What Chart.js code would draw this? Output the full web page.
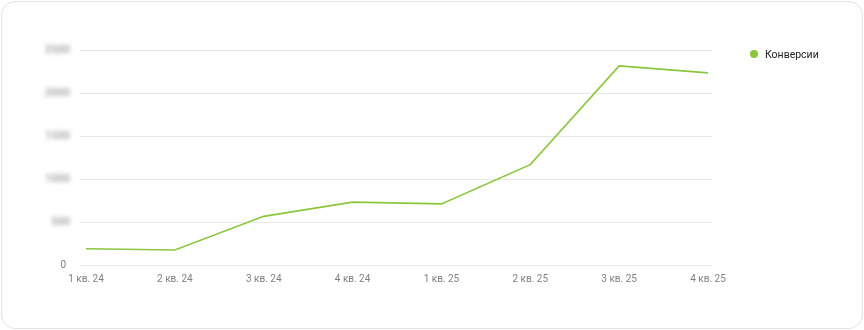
<!DOCTYPE html>
<html>
<head>
<meta charset="utf-8">
<script src="https://cdn.jsdelivr.net/npm/chart.js@4/dist/chart.umd.min.js"></script>
<style>
  html, body { margin: 0; padding: 0; background: #ffffff; }
  #card {
    position: absolute; left: 1px; top: 1px; width: 860px; height: 326px;
    border: 1px solid #e4e4e4; border-radius: 14px; background: #fff; overflow: hidden;
  }
  #wrap { position: absolute; left: -2px; top: -2px; width: 864px; height: 330px; }
  #legend {
    position: absolute; left: 750px; top: 46px; height: 16px;
    font: 10.5px Roboto, sans-serif; color: #222; white-space: nowrap;
    display: flex; align-items: center;
  }
  #legend .dot { width: 8px; height: 8px; border-radius: 50%; margin-right: 7px; }
</style>
</head>
<body>
<div id="card"><div id="wrap"><canvas id="c" width="864" height="330"></canvas>
<div id="legend"></div></div></div>
<script>
const categories = ["1 кв. 24", "2 кв. 24", "3 кв. 24", "4 кв. 24", "1 кв. 25", "2 кв. 25", "3 кв. 25", "4 кв. 25"];
const seriesName = "Конверсии";
const conversions = [195, 180, 570, 735, 715, 1170, 2315, 2235];
const yTicks = [0, 500, 1000, 1500, 2000, 2500];

const lineColor = '#8cc63f';

const blurLabels = {
  id: 'blurLabels',
  afterDraw(chart) {
    const y = chart.scales.y;
    const ctx = chart.ctx;
    ctx.save();
    ctx.filter = 'blur(2.2px)';
    ctx.font = '500 11px Roboto';
    ctx.fillStyle = '#9a9a9a';
    ctx.textAlign = 'right';
    ctx.textBaseline = 'middle';
    yTicks.forEach(v => {
      if (v === 0) return;
      ctx.fillText(String(v), chart.chartArea.left - 10, y.getPixelForValue(v));
    });
    ctx.restore();
  }
};

const chart = new Chart(document.getElementById('c'), {
  type: 'line',
  data: {
    datasets: [{
      label: seriesName,
      data: conversions.map((v, i) => ({ x: i, y: v })),
      borderColor: lineColor,
      backgroundColor: lineColor,
      borderWidth: 1.6,
      pointRadius: 0,
      pointHoverRadius: 0,
      tension: 0,
      fill: false
    }]
  },
  options: {
    responsive: false,
    animation: false,
    devicePixelRatio: 1,
    layout: { padding: { top: 50, left: 0, right: 152, bottom: 0 } },
    plugins: {
      tooltip: { enabled: false },
      legend: { display: false }
    },
    scales: {
      x: {
        type: 'linear',
        min: -0.0675,
        max: 7.045,
        grid: { display: false, drawTicks: false },
        border: { display: false },
        afterBuildTicks: s => { s.ticks = categories.map((c, i) => ({ value: i })); },
        afterFit: s => { s.height = 64.5; s.paddingLeft = 0; s.paddingRight = 0; },
        ticks: {
          autoSkip: false,
          maxRotation: 0,
          padding: 8,
          color: '#808080',
          font: { family: 'Roboto', size: 10 },
          callback: v => categories[v]
        }
      },
      y: {
        min: 0,
        max: 2500,
        afterBuildTicks: s => { s.ticks = yTicks.map(v => ({ value: v })); },
        afterFit: s => { s.width = 80; },
        grid: { color: '#e8e8e8', lineWidth: 1, drawTicks: false },
        border: { display: false },
        ticks: {
          padding: 14,
          color: ctx => (ctx.tick && ctx.tick.value === 0) ? '#808080' : 'rgba(0,0,0,0)',
          font: { family: 'Roboto', size: 10 },
          callback: v => String(v)
        }
      }
    }
  },
  plugins: [blurLabels]
});

const legendEl = document.getElementById('legend');
chart.data.datasets.forEach(ds => {
  const dot = document.createElement('span');
  dot.className = 'dot';
  dot.style.background = ds.borderColor;
  const txt = document.createElement('span');
  txt.textContent = ds.label;
  legendEl.appendChild(dot);
  legendEl.appendChild(txt);
});
</script>
</body>
</html>
